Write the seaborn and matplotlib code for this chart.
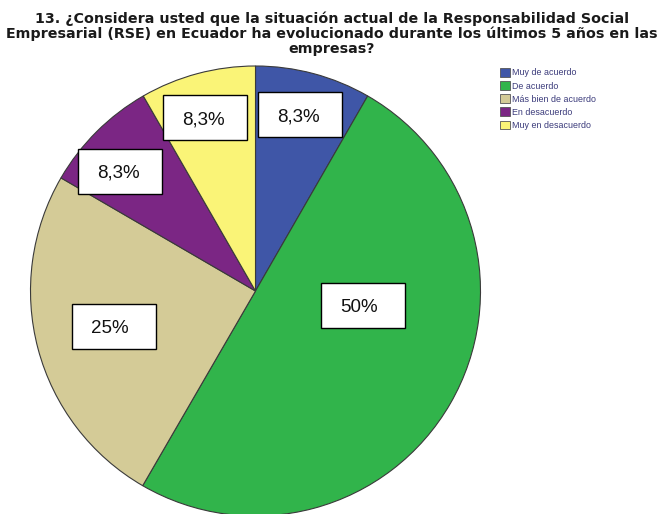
import matplotlib
matplotlib.use("Agg")
import matplotlib.pyplot as plt
from matplotlib.patches import Rectangle, Patch
import seaborn as sns

# Survey answers and their share of responses (percent)
categories = ["Muy de acuerdo", "De acuerdo", "Más bien de acuerdo",
              "En desacuerdo", "Muy en desacuerdo"]
percentages = [8.3, 50, 25, 8.3, 8.3]
colors = ["#3F56A7", "#31B44B", "#D4CB97", "#7B2684", "#FAF477"]

title = ("13. ¿Considera usted que la situación actual de la Responsabilidad Social\n"
         "Empresarial (RSE) en Ecuador ha evolucionado durante los últimos 5 años en las\n"
         "empresas?")

# Centres of the value boxes, in pie units (radius = 1)
label_x = [0.198, 0.478, -0.631, -0.604, -0.224]
label_y = [0.784, -0.064, -0.156, 0.533, 0.769]

sns.set_theme(style="white")
plt.rcParams["font.family"] = ["Liberation Sans", "DejaVu Sans"]

W, H = 660, 514
fig = plt.figure(figsize=(W / 100, H / 100), dpi=100)
fig.patch.set_facecolor("white")

R = 225.0            # pie radius in pixels
cx, cy = 255.5, 223  # pie centre in pixels (from bottom-left)
ax = fig.add_axes([(cx - R) / W, (cy - R) / H, 2 * R / W, 2 * R / H])

wedges, _ = ax.pie(percentages, colors=colors, startangle=90, counterclock=False,
                   radius=1.0,
                   wedgeprops=dict(edgecolor="#3a3a3a", linewidth=0.8))
ax.set_xlim(-1, 1)
ax.set_ylim(-1, 1)
ax.set_axis_off()

# Boxed value labels
bw, bh = 84 / R, 45 / R
pad_left = 19.5 / R
for v, x, y in zip(percentages, label_x, label_y):
    ax.add_patch(Rectangle((x - bw / 2, y - bh / 2), bw, bh, facecolor="white",
                           edgecolor="black", linewidth=1.0, zorder=5))
    txt = f"{v:g}%".replace(".", ",")
    ax.text(x - bw / 2 + pad_left, y, txt, ha="left", va="center_baseline",
            fontsize=13.5, color="#111111", zorder=6)

fig.text(0.503, 1 - 11 / H, title, ha="center", va="top", fontsize=10.3,
         fontweight="bold", linespacing=1.1, color="#1a1a1a",
         family=["DejaVu Sans"])

handles = [Patch(facecolor=c, edgecolor="#555555", linewidth=0.6) for c in colors]
fig.legend(handles, categories, loc="upper left",
           bbox_to_anchor=(500 / W, (H - 68) / H), frameon=False,
           fontsize=6.4, handlelength=1.15, handleheight=1.15,
           handletextpad=0.25, labelspacing=0.42, borderpad=0, borderaxespad=0,
           labelcolor="#3a3a7a")

fig.savefig("out.png", dpi=100, facecolor="white")
